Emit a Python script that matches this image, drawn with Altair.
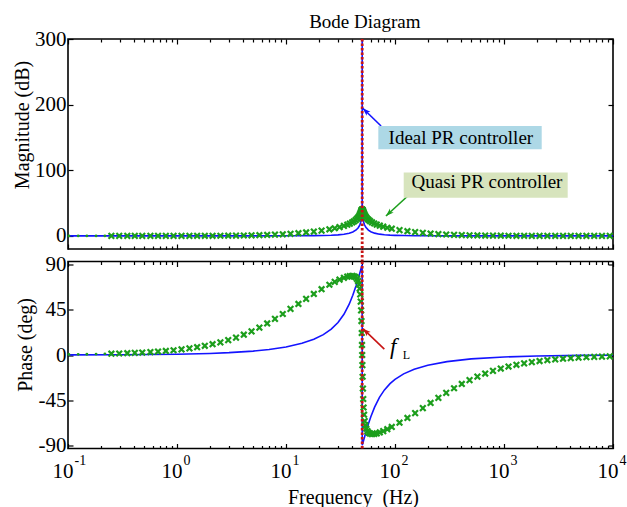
import altair as alt
import pandas as pd

FONT = "Liberation Serif"
BLUE = "#1414ff"
GREEN = "#1c9e1c"
RED = "#c81414"

# ---------------- ideal PR controller (solid line) ----------------
ideal_phase_freq = [0.1, 0.3, 1, 2, 3, 5, 7, 10, 14, 18, 22, 26, 30, 34, 38, 41, 44, 46,
                    47.5, 48.5, 49.2, 49.7, 49.95, 50.05, 50.3, 50.8, 51.5, 52.5, 54, 57,
                    60, 65, 72, 80, 90, 100, 120, 150, 200, 300, 500, 1000, 2000, 5000, 10000]
ideal_phase_deg = [0.08, 0.23, 0.77, 1.55, 2.33, 3.90, 5.50, 8.00, 11.59, 15.60, 20.21, 25.68,
                   32.32, 40.49, 50.53, 59.38, 69.21, 76.10, 81.35, 84.83, 87.26, 88.99, 89.8,
                   -89.8, -88.99, -87.31, -85.0, -81.77, -77.14, -68.74, -61.47, -51.81, -42.16,
                   -34.68, -28.47, -24.22, -18.79, -14.20, -10.20, -6.60, -3.90, -1.94, -0.97,
                   -0.39, -0.19]
ideal_mag_freq = [0.1, 1, 5, 10, 14, 18, 22, 26, 30, 34, 38, 41, 44, 46, 47.5, 48.5, 49.2,
                  49.7, 49.95, 50, 50.05, 50.3, 50.8, 51.5, 52.5, 54, 57, 60, 65, 72, 80, 90,
                  100, 120, 150, 200, 300, 500, 1000, 10000]
ideal_mag_db = [0, 0, 0.02, 0.09, 0.18, 0.33, 0.55, 0.90, 1.46, 2.38, 3.94, 5.86, 9.00, 12.39,
                16.45, 20.91, 26.41, 35.07, 50.0, 300.0, 50.0, 35.07, 26.57, 21.19, 16.89, 13.05,
                8.81, 6.42, 4.18, 2.60, 1.70, 1.12, 0.80, 0.47, 0.27, 0.14, 0.06, 0.02, 0.0, 0.0]

# ---------------- quasi PR controller (x markers) ----------------
quasi_freq = [0.25, 0.295, 0.35, 0.41, 0.48, 0.57, 0.67, 0.79, 0.93,
              1.1, 1.3, 1.53, 1.8, 2.12, 2.5, 2.95, 3.48, 4.1, 4.83, 5.7, 6.72, 7.92, 9.34,
              11, 13, 15.3, 18, 21.2, 25, 28, 31, 34, 36.5, 38.5, 40.5, 42, 43.5, 44.8, 45.8,
              46.7, 47.4, 48, 48.5, 48.9, 49.25, 49.55, 49.8, 50,
              50.2, 50.45, 50.75, 51.1, 51.5, 52, 52.7, 53.5, 54.5, 55.8, 57.3, 59, 61.5, 64.5,
              68, 72.5, 78, 85, 93.4,
              110, 130, 153, 180, 212, 250, 295, 348, 410, 483, 570, 672, 792, 934,
              1100, 1300, 1530, 1800, 2120, 2500, 2950, 3480, 4100, 4830, 5700, 6720, 7920, 9340]
quasi_phase_deg = [1.28, 1.51, 1.79, 2.09, 2.45, 2.91, 3.42, 4.03, 4.74,
                   5.60, 6.61, 7.77, 9.13, 10.72, 12.59, 14.78, 17.31, 20.20, 23.49, 27.24, 31.38,
                   35.91, 40.78,
                   45.85, 50.76, 55.79, 60.70, 65.42, 69.87, 72.69, 74.99, 76.81, 77.92, 78.48,
                   78.62, 78.30, 77.39, 75.75, 73.53, 70.21, 66.0, 60.35, 53.06, 44.37, 33.75,
                   21.87, 10.0, 0.0,
                   -10.1, -21.63, -33.36, -43.77, -52.23, -59.41, -65.70, -70.06, -73.32, -75.75,
                   -77.27, -78.14, -78.61, -78.53, -78.02, -77.06, -75.68, -73.83, -71.59,
                   -67.34, -62.64, -57.79, -52.80, -47.71, -42.63, -37.70, -33.07, -28.81, -24.95,
                   -21.47, -18.44, -15.77, -13.46,
                   -11.47, -9.74, -8.29, -7.06, -6.00, -5.09, -4.32, -3.66, -3.11, -2.64, -2.24,
                   -1.90, -1.61, -1.37]
quasi_mag_db = [0.01, 0.01, 0.01, 0.01, 0.01, 0.01, 0.02, 0.02, 0.03,
                0.04, 0.06, 0.08, 0.11, 0.15, 0.21, 0.29, 0.40, 0.55, 0.75, 1.02, 1.37, 1.83, 2.42,
                3.14, 4.11, 5.20, 6.50, 8.07, 10.00, 11.60, 13.33, 15.23, 17.01, 18.63, 20.50,
                22.13, 24.05, 26.05, 27.91, 29.92, 31.80, 33.69, 35.51, 37.09, 38.44, 39.42,
                39.95, 40.09,
                39.95, 39.44, 38.48, 37.18, 35.68, 33.96, 31.91, 29.99, 28.05, 26.06, 24.23,
                22.58, 20.65, 18.86, 17.21, 15.55, 13.97, 12.40, 10.93,
                8.83, 7.10, 5.69, 4.52, 3.55, 2.74, 2.08, 1.57, 1.17, 0.87, 0.64, 0.47, 0.34, 0.25,
                0.18, 0.13, 0.09, 0.07, 0.05, 0.03, 0.02, 0.02, 0.01, 0.01, 0.01, 0.0, 0.0, 0.0]
# sparse low-frequency samples of the quasi PR response
quasi_low_freq = [0.102, 0.124, 0.149, 0.181, 0.218]
quasi_low_mag_db = [0.0, 0.0, 0.0, 0.0, 0.0]
quasi_low_phase_deg = [0.52, 0.64, 0.77, 0.93, 1.12]

# resonant (fundamental) frequency f_L
resonance_hz = [50]

# ---------------- axes ----------------
decade_ticks = [0.1, 1, 10, 100, 1000, 10000]
minor_ticks = [k * 10.0 ** e for e in range(-1, 4) for k in range(2, 10)]
mag_ticks = [0, 100, 200, 300]
phase_ticks = [-90, -45, 0, 45, 90]

# ---------------- titles and annotations ----------------
title_text = "Bode Diagram"
title_pos = (16.3, 316.8)          # (Hz, dB) of the title's left baseline point
mag_title = ("Magnitude (dB)", 0.0439, 169.0)   # text, Hz, dB (rotated, centred)
phase_title = ("Phase (deg)", 0.0472, 10.0)     # text, Hz, deg (rotated, centred)

box_labels = ["Ideal PR controller", "Quasi PR controller"]
box_f_lo = [70.3, 120.2]
box_f_hi = [2218, 3840]
box_db_lo = [131.9, 58.2]
box_db_hi = [167.4, 96.6]
box_text_f = [402, 698]
box_text_db = [139.5, 72.5]
box_fill = ["#add8e6", "#d7e4bd"]

arrow_tail_f = [74.5, 130.9]
arrow_tail_db = [167.4, 60.8]
arrow_tip_f = [50.6, 82.6]
arrow_tip_db = [194.4, 30.3]
arrow_color = [BLUE, GREEN]
arrow_angle = [314, 227]

fl_tail = (79.8, 5.8)
fl_tip = (50.8, 26.2)

W, H_TOP, H_BOT, GAP = 545, 210, 187, 12.5
ARROW_HEAD = "M0,0L0.7,2L0,1.5L-0.7,2Z"
X_MARK = "M-1,-1L1,1M1,-1L-1,1"

fscale = alt.Scale(type="log", domain=[0.1, 10000], nice=False)
mag_scale = alt.Scale(domain=[-20, 300], nice=False, zero=False)
ph_scale = alt.Scale(domain=[-93, 93], nice=False, zero=False)


def xq(field="f"):
    return alt.X(f"{field}:Q", scale=fscale, axis=None)


def yq(scale, field="v"):
    return alt.Y(f"{field}:Q", scale=scale, axis=None)


def curve_layers(yscale, line_f, line_v, pts_v, low_v):
    line = alt.Chart(pd.DataFrame({"f": line_f, "v": line_v})).mark_line(
        color=BLUE, strokeWidth=1.6).encode(x=xq(), y=yq(yscale))
    pts = alt.Chart(pd.DataFrame({"f": quasi_freq, "v": pts_v})).mark_point(
        shape=X_MARK, filled=False, size=32, strokeWidth=2.2, color=GREEN, opacity=1
    ).encode(x=xq(), y=yq(yscale))
    low = alt.Chart(pd.DataFrame({"f": quasi_low_freq, "v": low_v})).mark_point(
        filled=True, size=8, color=GREEN, opacity=1).encode(x=xq(), y=yq(yscale))
    return [line, pts, low]


def red_rule(yscale, v_top, v_bottom):
    df = pd.DataFrame({"f": resonance_hz, "v": [v_top], "v2": [v_bottom]})
    return alt.Chart(df).mark_rule(
        color=RED, strokeWidth=2.8, strokeDash=[2.5, 2]
    ).encode(x=xq(), y=yq(yscale), y2="v2:Q")


def arrow(tail, tip, color, angle, yscale):
    df = pd.DataFrame({"f": [tail[0]], "v": [tail[1]], "f2": [tip[0]], "v2": [tip[1]]})
    shaft = alt.Chart(df).mark_rule(color=color, strokeWidth=1.6).encode(
        x=xq(), y=yq(yscale), x2="f2:Q", y2="v2:Q")
    head = alt.Chart(df).mark_point(shape=ARROW_HEAD, filled=True, size=64, color=color,
                                    opacity=1, angle=angle).encode(
        x=xq("f2"), y=yq(yscale, "v2"))
    return [shaft, head]


def side_title(spec, yscale):
    text, f, v = spec
    return alt.Chart(pd.DataFrame({"f": [f], "v": [v], "s": [text]})).mark_text(
        font=FONT, fontSize=20, angle=270, align="center", baseline="alphabetic",
        color="black").encode(x=xq(), y=yq(yscale), text="s:N")


def axis_carrier(channel, values, yscale, ax):
    """Invisible marks whose only job is to carry one axis."""
    if channel == "x":
        df = pd.DataFrame({"f": values, "v": [0.0] * len(values)})
        enc = {"x": alt.X("f:Q", scale=fscale, axis=ax), "y": yq(yscale)}
    else:
        df = pd.DataFrame({"f": [1.0] * len(values), "v": values})
        enc = {"x": xq(), "y": alt.Y("v:Q", scale=yscale, axis=ax)}
    return alt.Chart(df).mark_point(opacity=0).encode(**enc)


def tick_axis(channel, values, orient, length, yscale):
    ax = alt.Axis(values=values, orient=orient, labels=False, domain=False, ticks=True,
                  tickSize=alt.ExprRef(expr=str(-length)), tickColor="black", tickWidth=1.2,
                  title=None, grid=False, minExtent=0, maxExtent=0)
    return axis_carrier(channel, values, yscale, ax)


def frame_ticks(yscale, y_values):
    return [
        tick_axis("x", decade_ticks, "bottom", 5, yscale),
        tick_axis("x", minor_ticks, "bottom", 3, yscale),
        tick_axis("x", decade_ticks, "top", 5, yscale),
        tick_axis("x", minor_ticks, "top", 3, yscale),
        tick_axis("y", y_values, "left", 5, yscale),
        tick_axis("y", y_values, "right", 5, yscale),
    ]


def y_label_axis(yscale, values):
    ax = alt.Axis(values=values, orient="left", ticks=False, tickSize=0, domain=False,
                  labelExpr="datum.value + ''", labelFont=FONT, labelFontSize=21,
                  labelPadding=2, labelBaseline="middle", labelFlush=False,
                  labelOverlap=False, minExtent=0, title=None, grid=False)
    return axis_carrier("y", values, yscale, ax)


# ---------------- magnitude panel ----------------
title_mark = alt.Chart(pd.DataFrame({"f": [title_pos[0]], "v": [title_pos[1]],
                                     "s": [title_text]})).mark_text(
    font=FONT, fontSize=19, align="left", baseline="alphabetic", color="black"
).encode(x=xq(), y=yq(mag_scale), text="s:N")

boxes = alt.Chart(pd.DataFrame({
    "f": box_f_lo, "f2": box_f_hi, "v": box_db_lo, "v2": box_db_hi, "fill": box_fill
})).mark_rect().encode(x=xq(), x2="f2:Q", y=yq(mag_scale), y2="v2:Q",
                       color=alt.Color("fill:N", scale=None))
box_text = alt.Chart(pd.DataFrame({
    "f": box_text_f, "v": box_text_db, "label": box_labels
})).mark_text(font=FONT, fontSize=19, align="center", baseline="alphabetic",
              color="black").encode(x=xq(), y=yq(mag_scale), text="label:N")

mag_layers = curve_layers(mag_scale, ideal_mag_freq, ideal_mag_db, quasi_mag_db,
                          quasi_low_mag_db)
# the f_L marker runs on through the gap between the two panels
mag_layers.append(red_rule(mag_scale, 300, -39))
for i in range(2):
    mag_layers += arrow((arrow_tail_f[i], arrow_tail_db[i]), (arrow_tip_f[i], arrow_tip_db[i]),
                        arrow_color[i], arrow_angle[i], mag_scale)
mag_layers += [boxes, box_text, title_mark, side_title(mag_title, mag_scale)]
mag_layers += frame_ticks(mag_scale, mag_ticks)
mag_layers.append(y_label_axis(mag_scale, mag_ticks))

top = alt.layer(*mag_layers).resolve_axis(x="independent", y="independent").properties(
    width=W, height=H_TOP)

# ---------------- phase panel ----------------
fl_label = alt.Chart(pd.DataFrame({"f": [90.0], "v": [1.0], "s": ["f"]})).mark_text(
    font=FONT, fontSize=23, fontStyle="italic", align="left", baseline="alphabetic",
    color="black").encode(x=xq(), y=yq(ph_scale), text="s:N")
fl_sub = alt.Chart(pd.DataFrame({"f": [118.0], "v": [-4.0], "s": ["L"]})).mark_text(
    font=FONT, fontSize=12, align="left", baseline="alphabetic",
    color="black").encode(x=xq(), y=yq(ph_scale), text="s:N")

x_base_axis = alt.Axis(values=decade_ticks, orient="bottom", ticks=False, tickSize=0,
                       domain=False, labelExpr="'10'", labelAlign="right", labelOffset=5,
                       labelBaseline="alphabetic", labelPadding=29, labelFont=FONT,
                       labelFontSize=21, labelFlush=False, labelOverlap=False,
                       labelBound=False, minExtent=0,
                       title="Frequency\u00a0 (Hz)", titleFont=FONT, titleFontSize=20,
                       titleFontWeight="normal", titleX=285, titleY=55,
                       titleAlign="center", titleBaseline="alphabetic", grid=False)
x_exp_axis = alt.Axis(values=decade_ticks, orient="bottom", ticks=False, tickSize=0,
                      domain=False, labelExpr="'' + round(log(datum.value) / LN10)",
                      labelAlign="left", labelOffset=6, labelBaseline="alphabetic",
                      labelPadding=15.5, labelFont=FONT, labelFontSize=14, labelFlush=False,
                      labelOverlap=False, labelBound=False, minExtent=0, title=None,
                      grid=False)

ph_layers = curve_layers(ph_scale, ideal_phase_freq, ideal_phase_deg, quasi_phase_deg,
                         quasi_low_phase_deg)
ph_layers.append(red_rule(ph_scale, 93, -93))
ph_layers += arrow(fl_tail, fl_tip, RED, 313, ph_scale)
ph_layers += [fl_label, fl_sub, side_title(phase_title, ph_scale)]
ph_layers += frame_ticks(ph_scale, phase_ticks)
ph_layers += [axis_carrier("x", decade_ticks, ph_scale, x_base_axis),
              axis_carrier("x", decade_ticks, ph_scale, x_exp_axis)]
ph_layers.append(y_label_axis(ph_scale, phase_ticks))

bottom = alt.layer(*ph_layers).resolve_axis(x="independent", y="independent").properties(
    width=W, height=H_BOT)

chart = alt.vconcat(top, bottom, spacing=GAP, bounds="flush").properties(
    padding={"left": 12, "top": 12, "right": 0, "bottom": 0},
    background="white",
).configure_view(stroke="black", strokeWidth=1.6).configure_axis(
    labelFont=FONT, titleFont=FONT, labelColor="black", titleColor="black",
    titleFontWeight="normal")

chart.save("out.html", embed_options={"renderer": "svg", "actions": False})
